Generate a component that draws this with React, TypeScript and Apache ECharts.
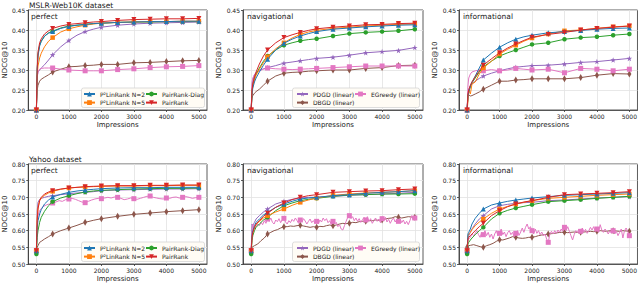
import React, { useEffect, useRef } from "react";
import * as echarts from "echarts";

// ---------- x grids (impressions) ----------
const X_S = [0, 25, 50, 100, 150, 250, 375, 500, 750, 1000, 1250, 1500, 1750, 2000, 2500, 3000, 3500, 4000, 4500, 5000];
const X_N = [0, 25, 50, 100, 200, 300, 400, 500, 600, 700, 800, 900, 1000,
  1100, 1200, 1300, 1400, 1500, 1600, 1700, 1800, 1900, 2000,
  2100, 2200, 2300, 2400, 2500, 2600, 2700, 2800, 2900, 3000,
  3100, 3200, 3300, 3400, 3500, 3600, 3700, 3800, 3900, 4000,
  4100, 4200, 4300, 4400, 4500, 4600, 4700, 4800, 4900, 5000];
const X_F = [0, 25,
  50, 100, 150, 200, 250, 300, 350, 400, 450, 500,
  550, 600, 650, 700, 750, 800, 850, 900, 950, 1000,
  1050, 1100, 1150, 1200, 1250, 1300, 1350, 1400, 1450, 1500,
  1550, 1600, 1650, 1700, 1750, 1800, 1850, 1900, 1950, 2000,
  2050, 2100, 2150, 2200, 2250, 2300, 2350, 2400, 2450, 2500,
  2550, 2600, 2650, 2700, 2750, 2800, 2850, 2900, 2950, 3000,
  3050, 3100, 3150, 3200, 3250, 3300, 3350, 3400, 3450, 3500,
  3550, 3600, 3650, 3700, 3750, 3800, 3850, 3900, 3950, 4000,
  4050, 4100, 4150, 4200, 4250, 4300, 4350, 4400, 4450, 4500,
  4550, 4600, 4650, 4700, 4750, 4800, 4850, 4900, 4950, 5000];
const X_TICKS = [0, 1000, 2000, 3000, 4000, 5000];

// ---------- MSLR-Web10K perfect ----------
const M1_N2 = [0.20, 0.30, 0.335, 0.36, 0.372, 0.385, 0.392, 0.396, 0.404, 0.409, 0.412, 0.414, 0.416, 0.417, 0.419, 0.420, 0.421, 0.421, 0.422, 0.422];
const M1_N5 = [0.20, 0.285, 0.31, 0.33, 0.342, 0.358, 0.372, 0.381, 0.395, 0.403, 0.408, 0.412, 0.415, 0.417, 0.419, 0.420, 0.421, 0.421, 0.422, 0.422];
const M1_DIAG = [0.20, 0.30, 0.34, 0.362, 0.372, 0.384, 0.393, 0.397, 0.405, 0.410, 0.412, 0.414, 0.416, 0.417, 0.419, 0.420, 0.420, 0.421, 0.421, 0.421];
const M1_PR = [0.20, 0.305, 0.345, 0.368, 0.378, 0.39, 0.398, 0.404, 0.41, 0.414, 0.416, 0.418, 0.420, 0.421, 0.424, 0.426, 0.427, 0.428, 0.428, 0.429];
const M1_PDGD = [0.20, 0.285, 0.295, 0.30, 0.305, 0.313, 0.325, 0.338, 0.358, 0.374, 0.387, 0.396, 0.402, 0.407, 0.412, 0.415, 0.417, 0.418, 0.419, 0.420];
const M1_EG = [0.20, 0.28, 0.295, 0.302, 0.304, 0.305, 0.305, 0.305, 0.302, 0.300, 0.299, 0.298, 0.298, 0.298, 0.301, 0.303, 0.306, 0.308, 0.309, 0.311];
const M1_DBGD = [0.20, 0.25, 0.262, 0.272, 0.277, 0.282, 0.288, 0.295, 0.302, 0.308, 0.309, 0.311, 0.312, 0.314, 0.314, 0.318, 0.319, 0.321, 0.323, 0.324];

// ---------- MSLR-Web10K navigational ----------
const M2_N2 = [0.20, 0.24, 0.255, 0.27, 0.28, 0.295, 0.312, 0.327, 0.35, 0.367, 0.377, 0.385, 0.391, 0.396, 0.402, 0.405, 0.408, 0.410, 0.412, 0.413];
const M2_N5 = [0.20, 0.245, 0.26, 0.275, 0.287, 0.302, 0.318, 0.333, 0.353, 0.368, 0.38, 0.389, 0.395, 0.399, 0.404, 0.407, 0.41, 0.412, 0.414, 0.415];
const M2_DIAG = [0.20, 0.245, 0.262, 0.28, 0.29, 0.305, 0.322, 0.335, 0.35, 0.362, 0.368, 0.373, 0.376, 0.378, 0.385, 0.391, 0.394, 0.396, 0.398, 0.402];
const M2_PR = [0.20, 0.25, 0.265, 0.283, 0.295, 0.315, 0.335, 0.35, 0.368, 0.381, 0.388, 0.394, 0.399, 0.403, 0.407, 0.41, 0.413, 0.414, 0.416, 0.417];
const M2_PDGD = [0.20, 0.26, 0.275, 0.288, 0.294, 0.299, 0.303, 0.306, 0.311, 0.317, 0.32, 0.323, 0.326, 0.329, 0.332, 0.337, 0.343, 0.346, 0.349, 0.356];
const M2_EG = [0.20, 0.27, 0.28, 0.288, 0.293, 0.298, 0.302, 0.305, 0.303, 0.302, 0.301, 0.302, 0.303, 0.304, 0.306, 0.308, 0.31, 0.31, 0.31, 0.31];
const M2_DBGD = [0.20, 0.23, 0.236, 0.242, 0.246, 0.252, 0.262, 0.272, 0.285, 0.292, 0.294, 0.295, 0.297, 0.298, 0.300, 0.300, 0.304, 0.306, 0.311, 0.312];

// ---------- MSLR-Web10K informational ----------
const M3_N2 = [0.20, 0.235, 0.245, 0.26, 0.27, 0.285, 0.305, 0.325, 0.342, 0.357, 0.368, 0.377, 0.383, 0.387, 0.393, 0.396, 0.399, 0.402, 0.404, 0.405];
const M3_N5 = [0.20, 0.22, 0.25, 0.24, 0.265, 0.27, 0.29, 0.305, 0.322, 0.34, 0.352, 0.362, 0.372, 0.38, 0.39, 0.398, 0.40, 0.404, 0.408, 0.41];
const M3_DIAG = [0.20, 0.235, 0.245, 0.258, 0.268, 0.28, 0.295, 0.308, 0.322, 0.335, 0.343, 0.35, 0.357, 0.364, 0.368, 0.377, 0.381, 0.383, 0.387, 0.39];
const M3_PR = [0.20, 0.24, 0.25, 0.262, 0.27, 0.283, 0.298, 0.312, 0.328, 0.343, 0.355, 0.365, 0.374, 0.382, 0.389, 0.394, 0.40, 0.404, 0.407, 0.41];
const M3_PDGD = [0.20, 0.245, 0.252, 0.26, 0.265, 0.272, 0.279, 0.285, 0.292, 0.298, 0.303, 0.307, 0.309, 0.311, 0.312, 0.315, 0.319, 0.321, 0.325, 0.329];
const M3_EG = [0.20, 0.26, 0.28, 0.29, 0.295, 0.298, 0.30, 0.298, 0.301, 0.298, 0.30, 0.304, 0.302, 0.30, 0.302, 0.293, 0.304, 0.302, 0.298, 0.302];
const M3_DBGD = [0.20, 0.24, 0.238, 0.235, 0.236, 0.24, 0.245, 0.252, 0.262, 0.272, 0.272, 0.275, 0.276, 0.278, 0.278, 0.278, 0.281, 0.287, 0.291, 0.29];

// ---------- Yahoo perfect ----------
const Y1_N2 = [0.54, 0.61, 0.63, 0.65, 0.663, 0.68, 0.692, 0.701, 0.709, 0.715, 0.719, 0.722, 0.724, 0.726, 0.728, 0.729, 0.729, 0.73, 0.73, 0.73];
const Y1_N5 = [0.54, 0.64, 0.67, 0.69, 0.698, 0.706, 0.713, 0.718, 0.724, 0.728, 0.73, 0.731, 0.732, 0.733, 0.734, 0.734, 0.735, 0.735, 0.736, 0.736];
const Y1_DIAG = [0.53, 0.58, 0.60, 0.625, 0.64, 0.658, 0.675, 0.687, 0.698, 0.705, 0.711, 0.716, 0.719, 0.721, 0.723, 0.725, 0.726, 0.727, 0.727, 0.728];
const Y1_PR = [0.54, 0.63, 0.665, 0.69, 0.70, 0.71, 0.716, 0.72, 0.725, 0.728, 0.73, 0.732, 0.733, 0.734, 0.735, 0.735, 0.736, 0.736, 0.737, 0.737];
const Y1_PDGD = [0.54, 0.66, 0.685, 0.694, 0.697, 0.70, 0.703, 0.705, 0.708, 0.711, 0.713, 0.715, 0.717, 0.72, 0.722, 0.723, 0.724, 0.725, 0.725, 0.726];
const Y1_EG = [0.54, 0.62, 0.645, 0.66,
  0.672, 0.677, 0.68, 0.683, 0.686, 0.69, 0.688, 0.693, 0.695,
  0.697, 0.694, 0.69, 0.686, 0.684, 0.688, 0.692, 0.695, 0.697, 0.696,
  0.698, 0.70, 0.698, 0.701, 0.70, 0.697, 0.693, 0.695, 0.698, 0.696,
  0.694, 0.697, 0.70, 0.703, 0.704, 0.70, 0.698, 0.696, 0.695, 0.698,
  0.697, 0.70, 0.701, 0.698, 0.70, 0.702, 0.70, 0.697, 0.699, 0.70];
const Y1_DBGD = [0.54, 0.55, 0.555, 0.565, 0.568, 0.575, 0.582, 0.59, 0.60, 0.608, 0.616, 0.625, 0.631, 0.636, 0.643, 0.649, 0.653, 0.657, 0.66, 0.663];

// ---------- Yahoo navigational ----------
const Y2_N2 = [0.54, 0.585, 0.60, 0.615, 0.625, 0.635, 0.647, 0.655, 0.67, 0.68, 0.688, 0.695, 0.698, 0.70, 0.705, 0.708, 0.712, 0.715, 0.717, 0.72];
const Y2_N5 = [0.54, 0.58, 0.595, 0.61, 0.618, 0.628, 0.638, 0.645, 0.656, 0.665, 0.676, 0.685, 0.692, 0.698, 0.706, 0.71, 0.713, 0.715, 0.717, 0.72];
const Y2_DIAG = [0.53, 0.57, 0.585, 0.60, 0.61, 0.62, 0.632, 0.64, 0.66, 0.675, 0.683, 0.69, 0.694, 0.697, 0.703, 0.707, 0.708, 0.71, 0.71, 0.711];
const Y2_PR = [0.54, 0.58, 0.595, 0.61, 0.62, 0.63, 0.643, 0.652, 0.67, 0.683, 0.693, 0.70, 0.705, 0.708, 0.715, 0.717, 0.719, 0.72, 0.723, 0.725];
const Y2_PDGD = [0.54, 0.62, 0.615, 0.625, 0.635, 0.645, 0.656, 0.665, 0.68, 0.688, 0.694, 0.698, 0.70, 0.70, 0.703, 0.706, 0.708, 0.71, 0.712, 0.715];
const Y2_EG = [0.54, 0.60,
  0.62, 0.605, 0.612, 0.62, 0.615, 0.625, 0.618, 0.63, 0.622, 0.635,
  0.628, 0.638, 0.625, 0.62, 0.632, 0.627, 0.636, 0.624, 0.633, 0.637,
  0.626, 0.62, 0.63, 0.624, 0.634, 0.628, 0.638, 0.63, 0.622, 0.632,
  0.626, 0.636, 0.629, 0.62, 0.628, 0.635, 0.624, 0.63, 0.622, 0.628,
  0.62, 0.632, 0.626, 0.638, 0.63, 0.636, 0.624, 0.63, 0.618, 0.628,
  0.62, 0.625, 0.612, 0.618, 0.605, 0.602, 0.615, 0.628, 0.64, 0.645,
  0.636, 0.642, 0.63, 0.638, 0.628, 0.636, 0.625, 0.633, 0.64, 0.632,
  0.642, 0.628, 0.636, 0.622, 0.63, 0.638, 0.628, 0.635, 0.624, 0.636,
  0.63, 0.64, 0.626, 0.634, 0.622, 0.632, 0.638, 0.626, 0.634, 0.628,
  0.636, 0.624, 0.632, 0.62, 0.628, 0.618, 0.63, 0.645, 0.632, 0.638];
const Y2_DBGD = [0.54, 0.55, 0.552, 0.555,
  0.56, 0.57, 0.578, 0.59, 0.595, 0.60, 0.603, 0.608, 0.612,
  0.612, 0.614, 0.613, 0.615, 0.616, 0.614, 0.612, 0.61, 0.612, 0.61,
  0.613, 0.612, 0.615, 0.617, 0.615, 0.617, 0.62, 0.622, 0.621, 0.622,
  0.625, 0.624, 0.627, 0.628, 0.628, 0.63, 0.63, 0.632, 0.631, 0.632,
  0.635, 0.637, 0.638, 0.642, 0.64, 0.638, 0.64, 0.642, 0.641, 0.64];

// ---------- Yahoo informational ----------
const Y3_N2 = [0.54, 0.59, 0.595, 0.605, 0.62, 0.637, 0.652, 0.665, 0.677, 0.683, 0.688, 0.692, 0.695, 0.698, 0.702, 0.706, 0.708, 0.71, 0.712, 0.714];
const Y3_N5 = [0.54, 0.585, 0.59, 0.595, 0.603, 0.615, 0.626, 0.635, 0.652, 0.665, 0.673, 0.68, 0.685, 0.69, 0.697, 0.70, 0.703, 0.706, 0.708, 0.71];
const Y3_DIAG = [0.53, 0.56, 0.565, 0.572, 0.578, 0.588, 0.60, 0.61, 0.635, 0.652, 0.661, 0.668, 0.673, 0.678, 0.687, 0.69, 0.693, 0.697, 0.70, 0.703];
const Y3_PR = [0.54, 0.575, 0.58, 0.585, 0.59, 0.60, 0.612, 0.622, 0.645, 0.66, 0.672, 0.68, 0.686, 0.69, 0.70, 0.708, 0.71, 0.712, 0.714, 0.717];
const Y3_PDGD = [0.54, 0.58, 0.585, 0.595, 0.605, 0.62, 0.635, 0.645, 0.665, 0.675, 0.679, 0.682, 0.684, 0.685, 0.69, 0.692, 0.695, 0.698, 0.70, 0.702];
const Y3_EG = [0.54, 0.57,
  0.575, 0.58, 0.59, 0.585, 0.592, 0.60, 0.588, 0.58, 0.595, 0.588,
  0.60, 0.585, 0.595, 0.58, 0.59, 0.575, 0.59, 0.60, 0.585, 0.592,
  0.605, 0.588, 0.596, 0.582, 0.594, 0.60, 0.588, 0.595, 0.582, 0.592,
  0.60, 0.586, 0.596, 0.608, 0.595, 0.61, 0.62, 0.605, 0.612, 0.60,
  0.59, 0.605, 0.592, 0.60, 0.588, 0.596, 0.585, 0.59, 0.575, 0.565,
  0.59, 0.598, 0.59, 0.60, 0.592, 0.602, 0.595, 0.605, 0.598, 0.61,
  0.60, 0.612, 0.598, 0.585, 0.572, 0.588, 0.60, 0.595, 0.605, 0.598,
  0.608, 0.596, 0.604, 0.592, 0.60, 0.61, 0.602, 0.612, 0.598, 0.605,
  0.595, 0.618, 0.602, 0.595, 0.605, 0.598, 0.59, 0.60, 0.592, 0.60,
  0.59, 0.598, 0.585, 0.595, 0.605, 0.578, 0.60, 0.608, 0.598, 0.585];
const Y3_DBGD = [0.55, 0.553, 0.555, 0.556,
  0.558, 0.555, 0.552, 0.55, 0.555, 0.558, 0.562, 0.568, 0.573,
  0.572, 0.575, 0.578, 0.582, 0.58, 0.578, 0.577, 0.578, 0.58, 0.58,
  0.582, 0.585, 0.587, 0.588, 0.59, 0.591, 0.592, 0.594, 0.595, 0.595,
  0.594, 0.595, 0.596, 0.595, 0.595, 0.596, 0.597, 0.598, 0.597, 0.598,
  0.60, 0.599, 0.598, 0.60, 0.60, 0.599, 0.598, 0.60, 0.599, 0.598];

const PANEL_LABELS = ["perfect", "navigational", "informational"];
const ROW_TITLES = ["MSLR-Web10K dataset", "Yahoo dataset"];

const N2 = "P\u00b2LinRank N=2";
const N5 = "P\u00b2LinRank N=5";
const DIAG = "PairRank-Diag";
const PR = "PairRank";
const PDGD = "PDGD (linear)";
const DBGD = "DBGD (linear)";
const EG = "EGreedy (linear)";

const STAR = "path://M0,-10 L2.35,-3.24 9.51,-3.09 3.8,1.24 5.88,8.09 0,4 -5.88,8.09 -3.8,1.24 -9.51,-3.09 -2.35,-3.24Z";

const STYLES: Record<string, any> = {
  [N2]: { color: "#1f77b4", symbol: "triangle", size: 5, rotate: 0 },
  [N5]: { color: "#ff7f0e", symbol: "rect", size: 4.5, rotate: 0 },
  [DIAG]: { color: "#2ca02c", symbol: "circle", size: 4.5, rotate: 0 },
  [PR]: { color: "#d62728", symbol: "triangle", size: 5, rotate: 180 },
  [PDGD]: { color: "#9467bd", symbol: STAR, size: 5.5, rotate: 0 },
  [DBGD]: { color: "#8c564b", symbol: "diamond", size: [4, 7], rotate: 0 },
  [EG]: { color: "#e377c2", symbol: "rect", size: 5, rotate: 0 },
};

// panel -> list of [name, xs, ys]
const PANELS: [string, number[], number[]][][] = [
  [[PDGD, X_S, M1_PDGD], [DBGD, X_S, M1_DBGD], [EG, X_S, M1_EG], [DIAG, X_S, M1_DIAG], [N5, X_S, M1_N5], [N2, X_S, M1_N2], [PR, X_S, M1_PR]],
  [[PDGD, X_S, M2_PDGD], [DBGD, X_S, M2_DBGD], [EG, X_S, M2_EG], [DIAG, X_S, M2_DIAG], [N5, X_S, M2_N5], [N2, X_S, M2_N2], [PR, X_S, M2_PR]],
  [[PDGD, X_S, M3_PDGD], [DBGD, X_S, M3_DBGD], [EG, X_S, M3_EG], [DIAG, X_S, M3_DIAG], [N5, X_S, M3_N5], [N2, X_S, M3_N2], [PR, X_S, M3_PR]],
  [[PDGD, X_S, Y1_PDGD], [DBGD, X_S, Y1_DBGD], [EG, X_N, Y1_EG], [DIAG, X_S, Y1_DIAG], [N5, X_S, Y1_N5], [N2, X_S, Y1_N2], [PR, X_S, Y1_PR]],
  [[PDGD, X_S, Y2_PDGD], [DBGD, X_N, Y2_DBGD], [EG, X_F, Y2_EG], [DIAG, X_S, Y2_DIAG], [N5, X_S, Y2_N5], [N2, X_S, Y2_N2], [PR, X_S, Y2_PR]],
  [[PDGD, X_S, Y3_PDGD], [DBGD, X_N, Y3_DBGD], [EG, X_F, Y3_EG], [DIAG, X_S, Y3_DIAG], [N5, X_S, Y3_N5], [N2, X_S, Y3_N2], [PR, X_S, Y3_PR]],
];

const LEFTS = [27, 243, 459];
const TOPS = [10, 164];
const W = 180;
const H = 100;
const Y_RANGES = [[0.2, 0.45], [0.5, 0.8]];
const FONT = "DejaVu Sans";
const TXT = "#222";
const AX = "#333";

function buildOption() {
  const grid: any[] = [];
  const xAxis: any[] = [];
  const yAxis: any[] = [];
  const series: any[] = [];
  for (let i = 0; i < 6; i++) {
    const row = Math.floor(i / 3);
    const col = i % 3;
    grid.push({
      left: LEFTS[col], top: TOPS[row], width: W, height: H,
      show: true, borderColor: AX, borderWidth: 0.8, backgroundColor: "transparent",
    });
    xAxis.push({
      type: "value", gridIndex: i, min: -250, max: 5250,
      axisLine: { show: true, onZero: false, lineStyle: { color: AX, width: 0.8 } },
      axisTick: { show: true, length: 2, customValues: X_TICKS, lineStyle: { color: AX, width: 0.8 } },
      axisLabel: {
        customValues: X_TICKS, fontSize: 6, margin: 3, color: TXT, fontFamily: FONT,
        formatter: (v: number) => String(Math.round(v)),
      },
      splitLine: { show: true, lineStyle: { color: "#e2e2e2", width: 0.8 } },
      name: "Impressions", nameLocation: "middle", nameGap: 11,
      nameTextStyle: { fontSize: 7, color: TXT, fontFamily: FONT },
    });
    yAxis.push({
      type: "value", gridIndex: i, min: Y_RANGES[row][0], max: Y_RANGES[row][1], interval: 0.05,
      axisLine: { show: true, onZero: false, lineStyle: { color: AX, width: 0.8 } },
      axisTick: { show: true, length: 2, lineStyle: { color: AX, width: 0.8 } },
      axisLabel: { fontSize: 6, margin: 3, color: TXT, fontFamily: FONT, formatter: (v: number) => v.toFixed(2) },
      splitLine: { show: true, lineStyle: { color: "#e2e2e2", width: 0.8 } },
      name: "NDCG@10", nameLocation: "middle", nameGap: 16,
      nameTextStyle: { fontSize: 7, color: TXT, fontFamily: FONT },
    });
    PANELS[i].forEach(([name, xs, ys], k) => {
      const st = STYLES[name];
      const data = xs.map((x, j) => [x, ys[j]]);
      series.push({
        type: "line", name, xAxisIndex: i, yAxisIndex: i, data,
        symbol: st.symbol, symbolRotate: st.rotate, showSymbol: true,
        symbolSize: (v: number[]) => (v[0] % 500 === 0 ? st.size : 0),
        color: st.color,
        lineStyle: { color: st.color, width: 1 },
        itemStyle: { color: st.color },
        emphasis: { disabled: true },
        z: 2 + k * 0.01,
        clip: true,
      });
    });
  }

  const legendBase = {
    orient: "vertical", itemWidth: 11, itemHeight: 6, itemGap: 2.6, padding: 0,
    selectedMode: false, textStyle: { fontSize: 6, color: TXT, fontFamily: FONT },
  };
  const legend: any[] = [];
  TOPS.forEach((t) => {
    const top = t + 81;
    legend.push({ ...legendBase, left: 83, top, data: [N2, N5] });
    legend.push({ ...legendBase, left: 145, top, data: [DIAG, PR] });
    legend.push({ ...legendBase, left: 296, top, data: [PDGD, DBGD] });
    legend.push({ ...legendBase, left: 354, top, data: [EG] });
  });

  const elements: any[] = [];
  TOPS.forEach((t, row) => {
    elements.push({
      type: "rect", z: 3,
      shape: { x: 81.5, y: t + 78, width: 123, height: 19.5, r: 2 },
      style: { fill: "#fffcf5", stroke: "#d4d4d4", lineWidth: 0.8 },
    });
    elements.push({
      type: "rect", z: 3,
      shape: { x: 292.5, y: t + 78, width: 127, height: 19.5, r: 2 },
      style: { fill: "#fffcf5", stroke: "#d4d4d4", lineWidth: 0.8 },
    });
    elements.push({
      type: "text", x: 29, y: t - 5, z: 5,
      style: { text: ROW_TITLES[row], fontSize: 7.5, fill: TXT, fontFamily: FONT, verticalAlign: "middle" },
    });
    PANEL_LABELS.forEach((lab, col) => {
      elements.push({
        type: "text", x: LEFTS[col] + 4, y: t + 6, z: 5,
        style: { text: lab, fontSize: 7.5, fill: TXT, fontFamily: FONT, verticalAlign: "middle" },
      });
    });
  });

  return {
    animation: false,
    backgroundColor: "#ffffff",
    textStyle: { fontFamily: FONT },
    grid, xAxis, yAxis, series, legend,
    graphic: { elements },
  };
}

export default function App() {
  const ref = useRef<HTMLDivElement>(null);
  useEffect(() => {
    if (!ref.current) return;
    const chart = echarts.init(ref.current, undefined, { renderer: "svg" });
    chart.setOption(buildOption() as any);
    return () => chart.dispose();
  }, []);
  return (
    <div
      ref={ref}
      style={{ position: "absolute", left: 0, top: 0, width: 640, height: 284 }}
    />
  );
}
